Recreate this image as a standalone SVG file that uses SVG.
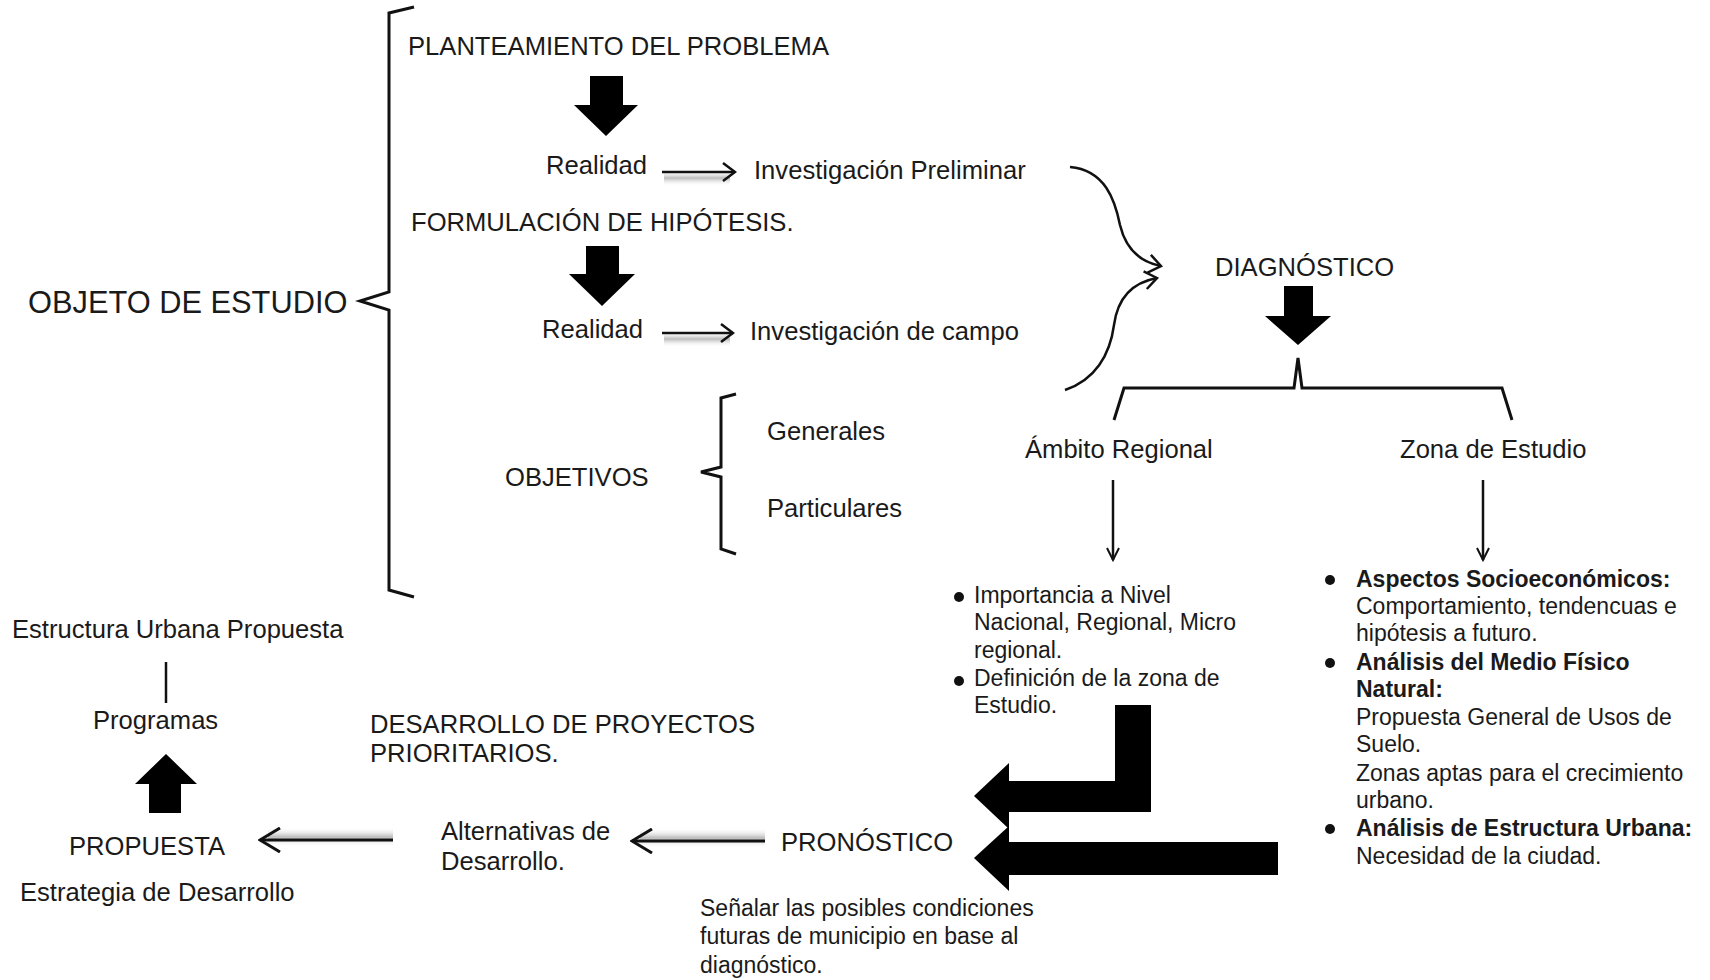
<svg xmlns="http://www.w3.org/2000/svg" width="1710" height="980" viewBox="0 0 1710 980">
<defs>
<style>
text{font-family:"Liberation Sans",Arial,sans-serif;fill:#1a1a1a}
.t{font-size:25.6px}
.s{font-size:23px}
.b{font-size:23px;font-weight:bold}
.big{font-size:30.8px}
.ln{fill:none;stroke:#111;stroke-width:3;stroke-linejoin:miter}
.thin{fill:none;stroke:#111;stroke-width:2.5}
.blk{fill:#000}
.dot{fill:#111}
</style>
<marker id="arrS" viewBox="0 0 16 20" refX="14" refY="10" markerWidth="16" markerHeight="20" markerUnits="userSpaceOnUse" orient="auto">
<path d="M2,1 L14,10 L2,19" fill="none" stroke="#111" stroke-width="2.5"/>
</marker>
<marker id="arrD" viewBox="0 0 16 16" refX="14" refY="8" markerWidth="16" markerHeight="16" markerUnits="userSpaceOnUse" orient="auto">
<path d="M2,2 L14,8 L2,14" fill="none" stroke="#111" stroke-width="2"/>
</marker>
<marker id="arrL" viewBox="0 0 24 26" refX="22" refY="13" markerWidth="24" markerHeight="26" markerUnits="userSpaceOnUse" orient="auto">
<path d="M2,1 L22,13 L2,25" fill="none" stroke="#111" stroke-width="3"/>
</marker>
<linearGradient id="shade" x1="0" y1="0" x2="0" y2="1">
<stop offset="0" stop-color="#fff" stop-opacity="0"/>
<stop offset="0.5" stop-color="#bbb"/>
<stop offset="1" stop-color="#fff" stop-opacity="0"/>
</linearGradient>
</defs>
<rect width="1710" height="980" fill="#fff"/>

<g id="connectors">
<rect x="664" y="170" width="66" height="16" fill="url(#shade)"/>
<rect x="664" y="331" width="66" height="16" fill="url(#shade)"/>
<rect x="640" y="828" width="125" height="20" fill="url(#shade)"/>
<rect x="268" y="827" width="125" height="20" fill="url(#shade)"/>
<line class="thin" x1="662" y1="172" x2="735" y2="172" marker-end="url(#arrS)"/>
<line class="thin" x1="662" y1="333" x2="733" y2="333" marker-end="url(#arrS)"/>
<path class="thin" d="M1070,167 C1105,170 1115,200 1120,225 C1126,250 1140,262 1161,266" marker-end="url(#arrS)"/>
<path class="thin" d="M1065,390 C1095,380 1110,355 1114,325 C1118,295 1135,282 1157,278" marker-end="url(#arrS)"/>
<polygon class="blk" points="590,76 623,76 623,105 638,105 606,136 574,105 590,105"/>
<polygon class="blk" points="586,246 619,246 619,274 635,274 602,306 569,274 586,274"/>
<polygon class="blk" points="1284,286 1313,286 1313,316 1331,316 1298,345 1265,316 1284,316"/>
<polygon class="blk" points="149,813 181,813 181,784 197,784 166,754 135,784 149,784"/>
<polygon class="blk" points="974,796 1009,763 1009,781 1115,781 1115,705 1151,705 1151,812 1009,812 1009,829"/>
<polygon class="blk" points="974,858 1009,826 1009,842 1278,842 1278,875 1009,875 1009,891"/>
<path class="ln" d="M1114,420 L1124,388 L1294,388 L1298,358 L1302,388 L1502,388 L1512,420"/>
<line class="thin" x1="1113" y1="480" x2="1113" y2="560" marker-end="url(#arrD)"/>
<line class="thin" x1="1483" y1="480" x2="1483" y2="560" marker-end="url(#arrD)"/>
<line class="ln" x1="765" y1="841" x2="632" y2="841" marker-end="url(#arrL)"/>
<line class="ln" x1="393" y1="840" x2="260" y2="840" marker-end="url(#arrL)"/>
<line class="thin" x1="166" y1="662" x2="166" y2="703"/>
</g>

<g id="brace-objeto">
<path class="ln" d="M414,7 L389,13 L389,292 L360,301 L389,310 L389,590 L414,597"/>
</g>
<g id="brace-objetivos">
<path class="ln" d="M736,394 L721,398 L721,467 L701,472 L721,477 L721,549 L736,554"/>
</g>

<g id="objeto"><text class="big" x="28" y="313">OBJETO DE ESTUDIO</text></g>
<g id="planteamiento"><text class="t" x="408" y="55">PLANTEAMIENTO DEL PROBLEMA</text></g>
<g id="realidad1"><text class="t" x="546" y="174">Realidad</text></g>
<g id="inv-preliminar"><text class="t" x="754" y="179">Investigación Preliminar</text></g>
<g id="formulacion"><text class="t" x="411" y="231">FORMULACIÓN DE HIPÓTESIS.</text></g>
<g id="realidad2"><text class="t" x="542" y="338">Realidad</text></g>
<g id="inv-campo"><text class="t" x="750" y="340">Investigación de campo</text></g>
<g id="objetivos"><text class="t" x="505" y="486">OBJETIVOS</text></g>
<g id="generales"><text class="t" x="767" y="440">Generales</text></g>
<g id="particulares"><text class="t" x="767" y="517">Particulares</text></g>
<g id="diagnostico"><text class="t" x="1215" y="276">DIAGNÓSTICO</text></g>
<g id="ambito"><text class="t" x="1025" y="458">Ámbito Regional</text></g>
<g id="zona"><text class="t" x="1400" y="458">Zona de Estudio</text></g>

<g id="ambito-lista">
<circle class="dot" cx="959" cy="597" r="5"/>
<text class="s" x="974" y="603">Importancia a Nivel</text>
<text class="s" x="974" y="630">Nacional, Regional, Micro</text>
<text class="s" x="974" y="658">regional.</text>
<circle class="dot" cx="959" cy="681" r="5"/>
<text class="s" x="974" y="686">Definición de la zona de</text>
<text class="s" x="974" y="713">Estudio.</text>
</g>

<g id="zona-lista">
<circle class="dot" cx="1330" cy="580" r="5"/>
<text class="b" x="1356" y="587">Aspectos Socioeconómicos:</text>
<text class="s" x="1356" y="614">Comportamiento, tendencuas e</text>
<text class="s" x="1356" y="641">hipótesis a futuro.</text>
<circle class="dot" cx="1330" cy="663" r="5"/>
<text class="b" x="1356" y="670">Análisis del Medio Físico</text>
<text class="b" x="1356" y="697">Natural:</text>
<text class="s" x="1356" y="725">Propuesta General de Usos de</text>
<text class="s" x="1356" y="752">Suelo.</text>
<text class="s" x="1356" y="781">Zonas aptas para el crecimiento</text>
<text class="s" x="1356" y="808">urbano.</text>
<circle class="dot" cx="1330" cy="829" r="5"/>
<text class="b" x="1356" y="836">Análisis de Estructura Urbana:</text>
<text class="s" x="1356" y="864">Necesidad de la ciudad.</text>
</g>

<g id="pronostico">
<text class="t" x="781" y="851">PRONÓSTICO</text>
</g>
<g id="pronostico-nota">
<text class="s" x="700" y="916">Señalar las posibles condiciones</text>
<text class="s" x="700" y="944">futuras de municipio en base al</text>
<text class="s" x="700" y="973">diagnóstico.</text>
</g>
<g id="alternativas">
<text class="t" x="441" y="840">Alternativas de</text>
<text class="t" x="441" y="870">Desarrollo.</text>
</g>
<g id="desarrollo-proyectos">
<text class="t" x="370" y="733">DESARROLLO DE PROYECTOS</text>
<text class="t" x="370" y="762">PRIORITARIOS.</text>
</g>
<g id="propuesta"><text class="t" x="69" y="855">PROPUESTA</text></g>
<g id="estrategia"><text class="t" x="20" y="901">Estrategia de Desarrollo</text></g>
<g id="programas"><text class="t" x="93" y="729">Programas</text></g>
<g id="estructura"><text class="t" x="12" y="638">Estructura Urbana Propuesta</text></g>
</svg>
